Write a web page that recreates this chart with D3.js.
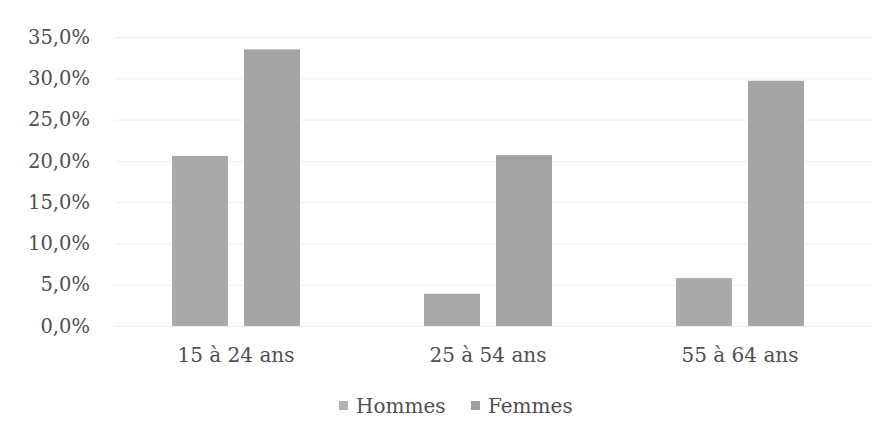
<!DOCTYPE html>
<html lang="fr">
<head>
<meta charset="utf-8">
<script src="https://cdn.jsdelivr.net/npm/d3@7/dist/d3.min.js"></script>
<style>
  html, body { margin: 0; padding: 0; background: #fff; }
  svg { display: block; }
</style>
</head>
<body>
<svg id="chart" width="885" height="439"></svg>
<script>
// Taux par tranche d'âge (%)
const categories = ["15 à 24 ans", "25 à 54 ans", "55 à 64 ans"];
const seriesNames = ["Hommes", "Femmes"];
const hommes = [20.6, 3.9, 5.8];
const femmes = [33.5, 20.7, 29.7];
const yTicks = [0, 5, 10, 15, 20, 25, 30, 35];

const seriesValues = { Hommes: hommes, Femmes: femmes };
const colors = { Hommes: "#a9a9a9", Femmes: "#a4a4a4" };
const textColor = "#505050";
const serif = "DejaVu Serif";

const svg = d3.select("#chart");

const x0 = d3.scaleBand().domain(categories).range([110, 866]).paddingInner(0).paddingOuter(0);
const x1 = d3.scaleBand().domain(seriesNames).range([62, 190]).paddingInner(0.222).paddingOuter(0);
const y = d3.scaleLinear().domain([0, 35]).range([326, 37]);

const fmt = v => d3.format(".1f")(v).replace(".", ",") + "%";

// Gridlines and value labels
const yAxis = d3.axisLeft(y).tickValues(yTicks).tickFormat(fmt).tickSize(-757).tickPadding(24);
const gy = svg.append("g").attr("transform", "translate(115,0)").call(yAxis)
  .attr("font-family", serif).attr("font-size", 19.5);
gy.select(".domain").remove();
gy.selectAll(".tick line").attr("stroke", "#eeeeee").attr("stroke-width", 1);
gy.selectAll(".tick text")
  .attr("x", -25)
  .attr("fill", textColor);

// Bars
const groups = svg.append("g").selectAll("g")
  .data(categories)
  .join("g")
  .attr("transform", d => `translate(${x0(d)},0)`);

groups.selectAll("rect")
  .data((d, i) => seriesNames.map(s => ({ s, v: seriesValues[s][i] })))
  .join("rect")
  .attr("x", d => x1(d.s))
  .attr("width", x1.bandwidth())
  .attr("y", d => y(d.v))
  .attr("height", d => y(0) - y(d.v))
  .attr("fill", d => colors[d.s]);

// Category labels
const xAxis = d3.axisBottom(x0).tickSize(0).tickPadding(0);
const gx = svg.append("g").attr("transform", "translate(0,326)").call(xAxis)
  .attr("font-family", serif).attr("font-size", 20);
gx.select(".domain").remove();
gx.selectAll(".tick text")
  .attr("y", 36)
  .attr("dy", 0)
  .attr("fill", textColor);

// Legend
const legendItems = [
  { s: "Hommes", x: 339 },
  { s: "Femmes", x: 471 }
];
const legend = svg.append("g").attr("font-family", serif).attr("font-size", 20);
legend.selectAll("rect")
  .data(legendItems)
  .join("rect")
  .attr("x", d => d.x)
  .attr("y", 401)
  .attr("width", 9)
  .attr("height", 9)
  .attr("fill", d => d.s === "Hommes" ? "#b3b3b3" : "#9f9f9f");
legend.selectAll("text")
  .data(legendItems)
  .join("text")
  .attr("x", d => d.x + 17)
  .attr("y", 413)
  .attr("fill", textColor)
  .text(d => d.s);
</script>
</body>
</html>
